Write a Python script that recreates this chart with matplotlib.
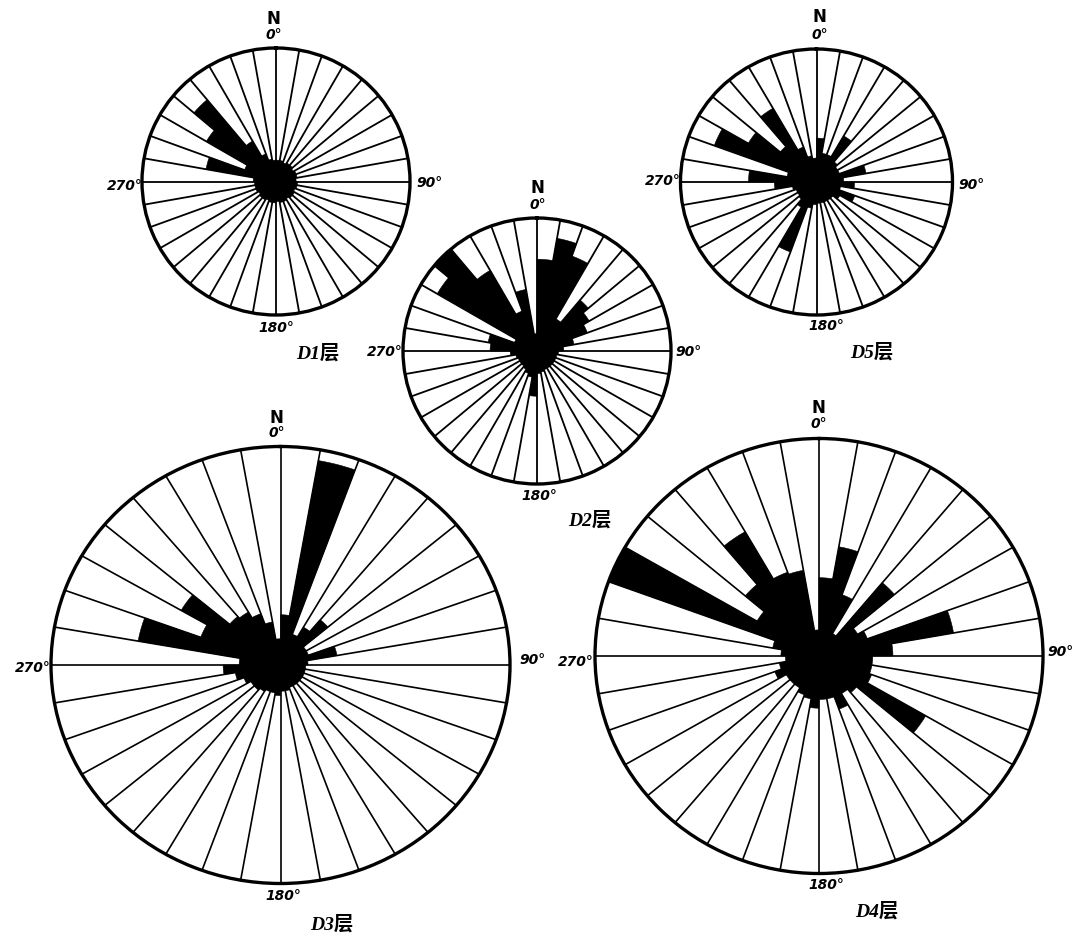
import numpy as np
import matplotlib
matplotlib.use("Agg")
import matplotlib.pyplot as plt

# ---- data: 36 sectors of 10 deg (0-10, 10-20, ... 350-360), radius as fraction of circle
sector_start = np.arange(0, 360, 10)

d1_vals = [0.16, 0.16, 0.15, 0.16, 0.16, 0.15, 0.16, 0.16, 0.15, 0.16, 0.16, 0.15,
           0.16, 0.16, 0.15, 0.16, 0.16, 0.15, 0.16, 0.16, 0.15, 0.16, 0.16, 0.15,
           0.16, 0.16, 0.16, 0.17, 0.53, 0.25, 0.60, 0.80, 0.35, 0.22, 0.17, 0.16]
d2_vals = [0.69, 0.86, 0.76, 0.28, 0.50, 0.45, 0.40, 0.28, 0.20, 0.16, 0.15, 0.15,
           0.15, 0.15, 0.15, 0.15, 0.16, 0.17, 0.34, 0.20, 0.18, 0.16, 0.15, 0.15,
           0.15, 0.16, 0.20, 0.35, 0.37, 0.18, 0.86, 1.00, 0.70, 0.32, 0.47, 0.13]
d5_vals = [0.33, 0.22, 0.22, 0.40, 0.20, 0.18, 0.18, 0.37, 0.20, 0.28, 0.18, 0.30,
           0.20, 0.16, 0.16, 0.16, 0.16, 0.16, 0.17, 0.20, 0.56, 0.22, 0.17, 0.16,
           0.16, 0.18, 0.31, 0.50, 0.22, 0.80, 0.58, 0.35, 0.64, 0.28, 0.20, 0.18]
d3_vals = [0.23, 0.95, 0.15, 0.20, 0.27, 0.13, 0.13, 0.25, 0.12, 0.11, 0.11, 0.11,
           0.11, 0.11, 0.11, 0.11, 0.12, 0.12, 0.14, 0.13, 0.13, 0.14, 0.15, 0.15,
           0.17, 0.20, 0.25, 0.18, 0.63, 0.37, 0.50, 0.29, 0.28, 0.25, 0.20, 0.12]
d4_vals = [0.36, 0.51, 0.30, 0.12, 0.44, 0.20, 0.23, 0.61, 0.33, 0.24, 0.24, 0.25,
           0.55, 0.22, 0.20, 0.26, 0.20, 0.20, 0.24, 0.20, 0.19, 0.17, 0.17, 0.17,
           0.21, 0.18, 0.15, 0.17, 0.21, 1.00, 0.32, 0.43, 0.66, 0.41, 0.40, 0.12]

layer_names = ["D1层", "D2层", "D5层", "D3层", "D4层"]
axis_labels = ["0°", "90°", "180°", "270°"]

W, H = 1092, 943
fig = plt.figure(figsize=(W / 100, H / 100), dpi=100)
fig.patch.set_facecolor("white")


def fx(x):
    return x / W


def fy(y):
    return 1 - y / H


def rose(vals, cx, cy, rx, ry, lw_line, lw_circ):
    ax = fig.add_axes([fx(cx - rx), fy(cy + ry), 2 * rx / W, 2 * ry / H],
                      projection="polar")
    ax.set_aspect("auto")
    ax.set_theta_zero_location("N")
    ax.set_theta_direction(-1)
    theta = np.deg2rad(sector_start + 5)
    ax.bar(theta, vals, width=np.deg2rad(10), bottom=0, color="black",
           edgecolor="black", linewidth=0.4, align="center", zorder=2)
    for a in sector_start:
        ax.plot([np.deg2rad(a)] * 2, [0, 1], color="black", lw=lw_line,
                solid_capstyle="butt", zorder=3)
    ax.set_ylim(0, 1)
    ax.set_xticks([])
    ax.set_yticks([])
    ax.grid(False)
    ax.spines["polar"].set_linewidth(lw_circ)
    ax.set_facecolor("white")
    return ax


num_kw = dict(fontsize=10, fontstyle="italic", fontweight="bold",
              family="DejaVu Sans", color="black")
n_kw = dict(fontsize=12, fontweight="bold", family="DejaVu Sans", color="black",
            ha="center", va="center")
lay_kw = dict(fontsize=14, fontstyle="italic", fontweight="bold",
              family=["Liberation Serif", "Noto Sans CJK SC"], color="black",
              ha="center", va="center")


def labels(name, cx, n_y, z_y, left_x, left_y, right_x, right_y, b_x, b_y, lx, ly):
    fig.text(fx(cx), fy(n_y), "N", **n_kw)
    fig.text(fx(cx + 1), fy(z_y), axis_labels[0], ha="center", va="center", **num_kw)
    fig.text(fx(right_x), fy(right_y), axis_labels[1], ha="left", va="center", **num_kw)
    fig.text(fx(b_x), fy(b_y), axis_labels[2], ha="center", va="center", **num_kw)
    fig.text(fx(left_x), fy(left_y), axis_labels[3], ha="right", va="center", **num_kw)
    fig.text(fx(lx), fy(ly), name, **lay_kw)


# D1
rose(d1_vals, 276, 181.5, 134, 133.5, 1.3, 2.4)
labels(layer_names[0], 273, 19, 35, 143, 186, 416, 183, 276, 328, 318, 353)
# D2
rose(d2_vals, 537, 351, 134, 133, 1.3, 2.4)
labels(layer_names[1], 537, 188, 205, 403, 352, 675, 352, 539, 496, 590, 520)
# D5
rose(d5_vals, 816.5, 182, 136, 133, 1.3, 2.4)
labels(layer_names[2], 819, 17, 35, 681, 181, 958, 185, 826, 326, 872, 352)
# D3
rose(d3_vals, 280.5, 665, 229.5, 218.5, 1.2, 2.4)
labels(layer_names[3], 276, 418, 433, 51, 668, 519, 660, 283, 896, 332, 924)
# D4
rose(d4_vals, 819, 656, 224, 217.5, 1.2, 2.4)
labels(layer_names[4], 818, 408, 424, 594, 662, 1047, 652, 826, 885, 877, 911)

fig.savefig("out.png", dpi=100, facecolor="white")
